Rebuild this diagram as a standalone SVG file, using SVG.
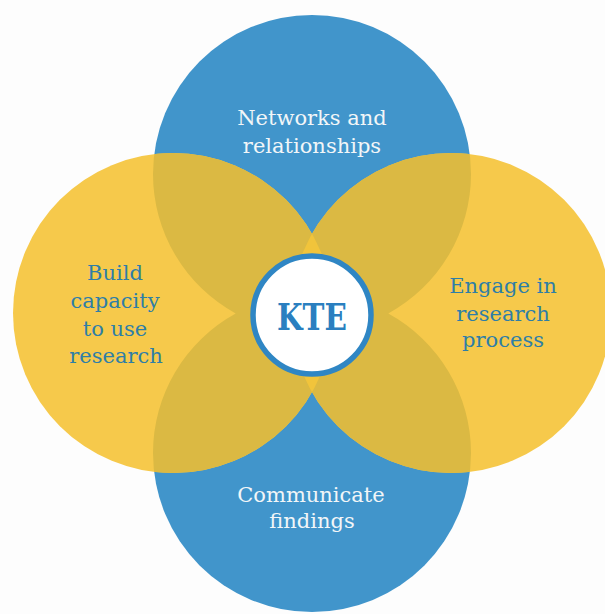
<svg xmlns="http://www.w3.org/2000/svg" width="605" height="614" viewBox="0 0 605 614">
  <style>
    .blue { fill: #4195cb; }
    .yellow { fill: #f6c94b; }
    .overlap { fill: #dbb943; }
    .lens { fill: #f1c43b; }
    .lbl { font-family: "DejaVu Serif", "Liberation Serif", serif; font-size: 21px; text-anchor: middle; }
    .onblue { fill: #f2f6f8; }
    .onyellow { fill: #2e7ea7; }
    .kte { font-family: "DejaVu Serif", "Liberation Serif", serif; font-size: 37px; font-weight: bold; fill: #2a7fc0; text-anchor: middle; }
  </style>
  <defs>
    <clipPath id="clipBlue">
      <circle cx="312" cy="174" r="159"/>
      <circle cx="312" cy="453" r="159"/>
    </clipPath>
    <clipPath id="clipLeft">
      <circle cx="173" cy="313" r="160"/>
    </clipPath>
  </defs>
  <rect width="605" height="614" fill="#fdfdfd"/>

  <g id="node-networks">
    <circle class="blue" cx="312" cy="174" r="159"/>
  </g>
  <g id="node-communicate">
    <circle class="blue" cx="312" cy="453" r="159"/>
  </g>
  <g id="node-build">
    <circle class="yellow" cx="173" cy="313" r="160"/>
  </g>
  <g id="node-engage">
    <circle class="yellow" cx="451" cy="313" r="160"/>
  </g>

  <g id="overlaps" clip-path="url(#clipBlue)">
    <circle class="overlap" cx="173" cy="313" r="160"/>
    <circle class="overlap" cx="451" cy="313" r="160"/>
    <g clip-path="url(#clipLeft)">
      <circle class="lens" cx="451" cy="313" r="160"/>
    </g>
  </g>

  <g id="connectors"></g>

  <g id="labels">
    <text class="lbl onblue" x="312" y="125">Networks and</text>
    <text class="lbl onblue" x="312" y="153">relationships</text>

    <text class="lbl onyellow" x="115" y="280">Build</text>
    <text class="lbl onyellow" x="115" y="308">capacity</text>
    <text class="lbl onyellow" x="115" y="336">to use</text>
    <text class="lbl onyellow" x="116" y="363">research</text>

    <text class="lbl onyellow" x="503" y="293">Engage in</text>
    <text class="lbl onyellow" x="503" y="321">research</text>
    <text class="lbl onyellow" x="503" y="347">process</text>

    <text class="lbl onblue" x="311" y="502">Communicate</text>
    <text class="lbl onblue" x="312" y="528">findings</text>
  </g>

  <g id="node-kte">
    <circle cx="312" cy="315" r="59" fill="#ffffff" stroke="#2f86c4" stroke-width="5.5"/>
    <text class="kte" x="312" y="330" textLength="70" lengthAdjust="spacingAndGlyphs">KTE</text>
  </g>
</svg>
